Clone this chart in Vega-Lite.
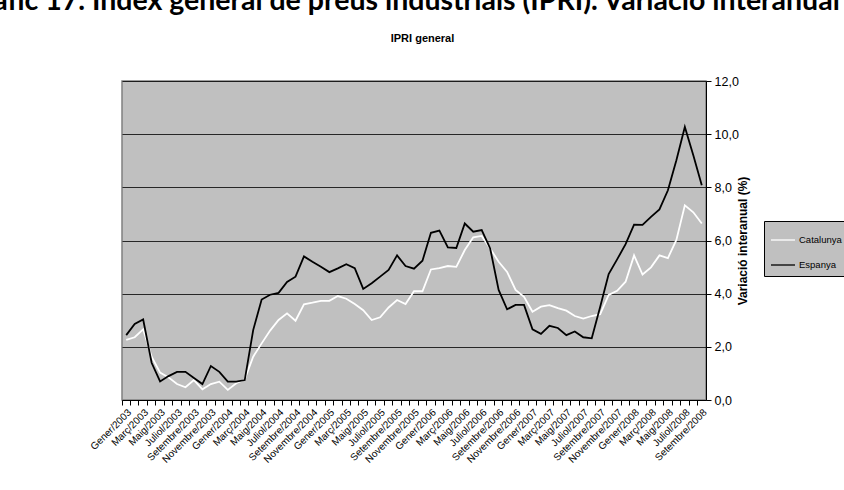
{
  "$schema": "https://vega.github.io/schema/vega-lite/v6.json",
  "width": 584,
  "height": 319,
  "autosize": {"type": "none"},
  "padding": {"left": 122, "top": 81, "right": 138, "bottom": 90},
  "background": "white",
  "title": {
    "text": "Gràfic 17. Índex general de preus industrials (IPRI). Variació interanual",
    "anchor": "middle",
    "font": "Lato",
    "fontSize": 28.5,
    "fontWeight": "bold",
    "color": "black",
    "offset": 17,
    "dx": -13
  },
  "data": {
    "values": [
      {"mes": "Gener/2003", "Catalunya": 2.26, "Espanya": 2.44},
      {"mes": "Febrer/2003", "Catalunya": 2.36, "Espanya": 2.86},
      {"mes": "Març/2003", "Catalunya": 2.66, "Espanya": 3.03},
      {"mes": "Abril/2003", "Catalunya": 1.63, "Espanya": 1.40},
      {"mes": "Maig/2003", "Catalunya": 1.03, "Espanya": 0.70},
      {"mes": "Juny/2003", "Catalunya": 0.85, "Espanya": 0.90},
      {"mes": "Juliol/2003", "Catalunya": 0.60, "Espanya": 1.06},
      {"mes": "Agost/2003", "Catalunya": 0.48, "Espanya": 1.06},
      {"mes": "Setembre/2003", "Catalunya": 0.75, "Espanya": 0.83},
      {"mes": "Octubre/2003", "Catalunya": 0.40, "Espanya": 0.60},
      {"mes": "Novembre/2003", "Catalunya": 0.60, "Espanya": 1.28},
      {"mes": "Desembre/2003", "Catalunya": 0.69, "Espanya": 1.06},
      {"mes": "Gener/2004", "Catalunya": 0.38, "Espanya": 0.69},
      {"mes": "Febrer/2004", "Catalunya": 0.63, "Espanya": 0.69},
      {"mes": "Març/2004", "Catalunya": 0.78, "Espanya": 0.75},
      {"mes": "Abril/2004", "Catalunya": 1.63, "Espanya": 2.63},
      {"mes": "Maig/2004", "Catalunya": 2.13, "Espanya": 3.78},
      {"mes": "Juny/2004", "Catalunya": 2.61, "Espanya": 3.96},
      {"mes": "Juliol/2004", "Catalunya": 3.01, "Espanya": 4.03},
      {"mes": "Agost/2004", "Catalunya": 3.26, "Espanya": 4.44},
      {"mes": "Setembre/2004", "Catalunya": 2.98, "Espanya": 4.64},
      {"mes": "Octubre/2004", "Catalunya": 3.60, "Espanya": 5.40},
      {"mes": "Novembre/2004", "Catalunya": 3.66, "Espanya": 5.20},
      {"mes": "Desembre/2004", "Catalunya": 3.73, "Espanya": 5.01},
      {"mes": "Gener/2005", "Catalunya": 3.73, "Espanya": 4.81},
      {"mes": "Febrer/2005", "Catalunya": 3.91, "Espanya": 4.95},
      {"mes": "Març/2005", "Catalunya": 3.81, "Espanya": 5.11},
      {"mes": "Abril/2005", "Catalunya": 3.61, "Espanya": 4.96},
      {"mes": "Maig/2005", "Catalunya": 3.38, "Espanya": 4.18},
      {"mes": "Juny/2005", "Catalunya": 3.01, "Espanya": 4.39},
      {"mes": "Juliol/2005", "Catalunya": 3.11, "Espanya": 4.64},
      {"mes": "Agost/2005", "Catalunya": 3.48, "Espanya": 4.89},
      {"mes": "Setembre/2005", "Catalunya": 3.76, "Espanya": 5.44},
      {"mes": "Octubre/2005", "Catalunya": 3.61, "Espanya": 5.04},
      {"mes": "Novembre/2005", "Catalunya": 4.09, "Espanya": 4.94},
      {"mes": "Desembre/2005", "Catalunya": 4.09, "Espanya": 5.24},
      {"mes": "Gener/2006", "Catalunya": 4.91, "Espanya": 6.29},
      {"mes": "Febrer/2006", "Catalunya": 4.96, "Espanya": 6.37},
      {"mes": "Març/2006", "Catalunya": 5.04, "Espanya": 5.74},
      {"mes": "Abril/2006", "Catalunya": 5.01, "Espanya": 5.72},
      {"mes": "Maig/2006", "Catalunya": 5.64, "Espanya": 6.64},
      {"mes": "Juny/2006", "Catalunya": 6.12, "Espanya": 6.33},
      {"mes": "Juliol/2006", "Catalunya": 6.17, "Espanya": 6.39},
      {"mes": "Agost/2006", "Catalunya": 5.70, "Espanya": 5.70},
      {"mes": "Setembre/2006", "Catalunya": 5.20, "Espanya": 4.14},
      {"mes": "Octubre/2006", "Catalunya": 4.82, "Espanya": 3.41},
      {"mes": "Novembre/2006", "Catalunya": 4.14, "Espanya": 3.58},
      {"mes": "Desembre/2006", "Catalunya": 3.88, "Espanya": 3.58},
      {"mes": "Gener/2007", "Catalunya": 3.32, "Espanya": 2.66},
      {"mes": "Febrer/2007", "Catalunya": 3.51, "Espanya": 2.49},
      {"mes": "Març/2007", "Catalunya": 3.57, "Espanya": 2.79},
      {"mes": "Abril/2007", "Catalunya": 3.46, "Espanya": 2.71},
      {"mes": "Maig/2007", "Catalunya": 3.36, "Espanya": 2.44},
      {"mes": "Juny/2007", "Catalunya": 3.16, "Espanya": 2.58},
      {"mes": "Juliol/2007", "Catalunya": 3.06, "Espanya": 2.36},
      {"mes": "Agost/2007", "Catalunya": 3.16, "Espanya": 2.32},
      {"mes": "Setembre/2007", "Catalunya": 3.23, "Espanya": 3.51},
      {"mes": "Octubre/2007", "Catalunya": 3.95, "Espanya": 4.74},
      {"mes": "Novembre/2007", "Catalunya": 4.11, "Espanya": 5.29},
      {"mes": "Desembre/2007", "Catalunya": 4.45, "Espanya": 5.86},
      {"mes": "Gener/2008", "Catalunya": 5.44, "Espanya": 6.60},
      {"mes": "Febrer/2008", "Catalunya": 4.72, "Espanya": 6.59},
      {"mes": "Març/2008", "Catalunya": 4.99, "Espanya": 6.89},
      {"mes": "Abril/2008", "Catalunya": 5.44, "Espanya": 7.17},
      {"mes": "Maig/2008", "Catalunya": 5.34, "Espanya": 7.89},
      {"mes": "Juny/2008", "Catalunya": 6.02, "Espanya": 9.02},
      {"mes": "Juliol/2008", "Catalunya": 7.32, "Espanya": 10.27},
      {"mes": "Agost/2008", "Catalunya": 7.06, "Espanya": 9.21},
      {"mes": "Setembre/2008", "Catalunya": 6.64, "Espanya": 8.08}
    ]
  },
  "transform": [{"fold": ["Catalunya", "Espanya"], "as": ["serie", "valor"]}],
  "mark": {"type": "line", "strokeWidth": 1.8},
  "encoding": {
    "x": {
      "field": "mes",
      "type": "ordinal",
      "sort": null,
      "scale": {"type": "band", "paddingInner": 0, "paddingOuter": 0},
      "axis": {
        "title": "IPRI general",
        "titleFont": "Liberation Sans",
        "titleFontSize": 11,
        "titleFontWeight": "bold",
        "titleColor": "black",
        "titleX": 300,
        "titleY": -359,
        "titleAlign": "center",
        "titleBaseline": "alphabetic",
        "bandPosition": 0,
        "labelAngle": -45,
        "labelFont": "Liberation Sans",
        "labelFontSize": 10,
        "labelColor": "black",
        "labelOverlap": false,
        "labelPadding": 2,
        "labelExpr": "indexof(['Gener','Març','Maig','Juliol','Setembre','Novembre'], split(datum.label,'/')[0]) >= 0 ? datum.label : ''",
        "tickColor": "black",
        "tickSize": 5,
        "domainColor": "black",
        "domainWidth": 1,
        "grid": false
      }
    },
    "y": {
      "field": "valor",
      "type": "quantitative",
      "scale": {"domain": [0, 12], "nice": false},
      "axis": {
        "orient": "right",
        "values": [0, 2, 4, 6, 8, 10, 12],
        "labelExpr": "replace(format(datum.value, '.1f'), '.', ',')",
        "labelFont": "Liberation Sans",
        "labelFontSize": 12.5,
        "labelColor": "black",
        "labelPadding": 3,
        "tickColor": "black",
        "tickSize": 5,
        "domainColor": "black",
        "grid": true,
        "gridColor": "black",
        "gridOpacity": 0.8,
        "title": "Variació interanual (%)",
        "titleAngle": 270,
        "titleFont": "Liberation Sans",
        "titleFontSize": 12,
        "titleFontWeight": "bold",
        "titleColor": "black",
        "titlePadding": 11
      }
    },
    "color": {
      "field": "serie",
      "type": "nominal",
      "scale": {"domain": ["Catalunya", "Espanya"], "range": ["#ffffff", "#000000"]},
      "legend": {
        "title": null,
        "orient": "none",
        "legendX": 642,
        "legendY": 140,
        "fillColor": "#c0c0c0",
        "strokeColor": "black",
        "padding": 6,
        "symbolType": "stroke",
        "symbolSize": 576,
        "symbolStrokeWidth": 1.3,
        "labelFont": "Liberation Sans",
        "labelFontSize": 9.5,
        "labelColor": "black",
        "rowPadding": 7,
        "labelOffset": 3
      }
    }
  },
  "config": {
    "view": {"fill": "#c0c0c0", "stroke": "#808080", "strokeWidth": 1.5}
  }
}
